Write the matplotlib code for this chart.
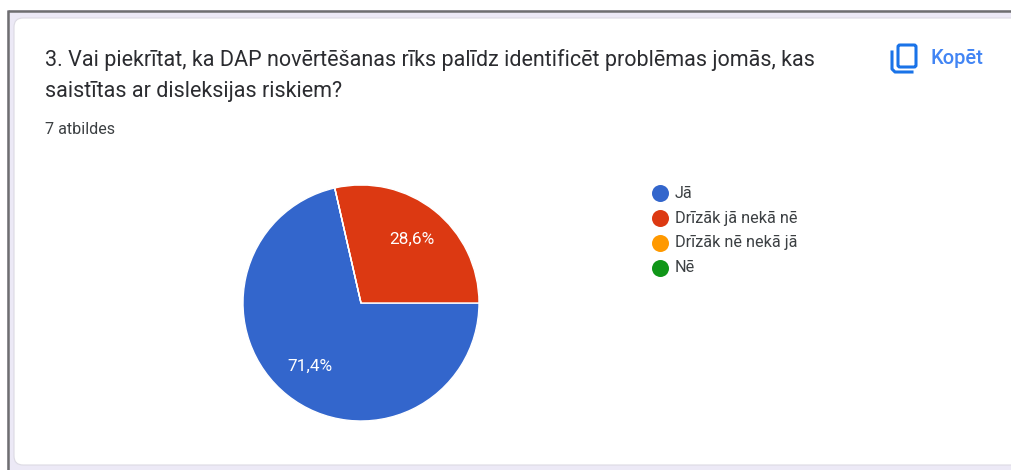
import matplotlib
matplotlib.use('Agg')
import matplotlib.pyplot as plt
from matplotlib.patches import FancyBboxPatch, Rectangle

plt.rcParams['font.family'] = ['Roboto', 'DejaVu Sans']

# dati
labels = ['Jā', 'Drīzāk jā nekā nē', 'Drīzāk nē nekā jā', 'Nē']
values = [5, 2, 0, 0]
colors = ['#3366cc', '#dc3912', '#ff9900', '#109618']
title_lines = ['3. Vai piekrītat, ka DAP novērtēšanas rīks palīdz identificēt problēmas jomās, kas',
               'saistītas ar disleksijas riskiem?']
answers = '7 atbildes'
copy_label = 'Kopēt'

W, H = 1012, 470
fig = plt.figure(figsize=(W / 100, H / 100), dpi=100, facecolor='white')

# fons pikseļu koordinātēs
ax = fig.add_axes([0, 0, 1, 1])
ax.set_xlim(0, W)
ax.set_ylim(H, 0)
ax.axis('off')

ax.add_patch(Rectangle((7, 10), W, H, fc='#ece9f6', ec='none'))
ax.plot([8, W], [10.5, 10.5], color='#6e6e70', lw=1.8, solid_capstyle='butt')
ax.plot([8, 8], [10, H], color='#6e6e70', lw=1.8, solid_capstyle='butt')
ax.add_patch(FancyBboxPatch((14, 18), W + 30, 447, boxstyle='round,pad=0,rounding_size=9',
                            fc='white', ec='#dcdae3', lw=0.8))

# virsraksts
ax.text(45, 60, title_lines[0], fontsize=15.5, color='#2b2c30', va='center', ha='left')
ax.text(45, 91, title_lines[1], fontsize=15.5, color='#2b2c30', va='center', ha='left')
ax.text(45, 130, answers, fontsize=11.6, color='#3c4043', va='center', ha='left')

# kopēšanas ikona
blue = '#1a73e8'
ax.add_patch(FancyBboxPatch((898, 45), 18, 22, boxstyle='round,pad=0,rounding_size=2',
                            fc='none', ec=blue, lw=2.2))
ax.plot([892, 892, 895, 912], [52, 69, 72, 72], color=blue, lw=2.2)
ax.text(931, 58.5, copy_label, fontsize=14.4, color='#4285f4', va='center', ha='left', fontweight='medium')

# pīrāgs
cx, cy, r = 361, 303, 118
pie_ax = fig.add_axes([(cx - r) / W, 1 - (cy + r) / H, 2 * r / W, 2 * r / H])
wedges, texts, autotexts = pie_ax.pie(values, colors=colors, startangle=102.86, radius=1,
                                      wedgeprops={'ec': 'white', 'lw': 1},
                                      autopct=lambda p: f'{p:.1f}%'.replace('.', ',') if p > 0 else '',
                                      pctdistance=0.69,
                                      textprops={'color': 'white', 'fontsize': 12.4})
pie_ax.set_xlim(-1, 1)
pie_ax.set_ylim(-1, 1)

# leģenda
for i, (lab, col) in enumerate(zip(labels, colors)):
    y = 193 + i * 25
    ax.scatter([660], [y], s=150, color=col, lw=0)
    ax.text(675, y, lab, fontsize=11.7, color='#3c4043', va='center', ha='left')

fig.savefig('out.png', dpi=100, facecolor='white')
